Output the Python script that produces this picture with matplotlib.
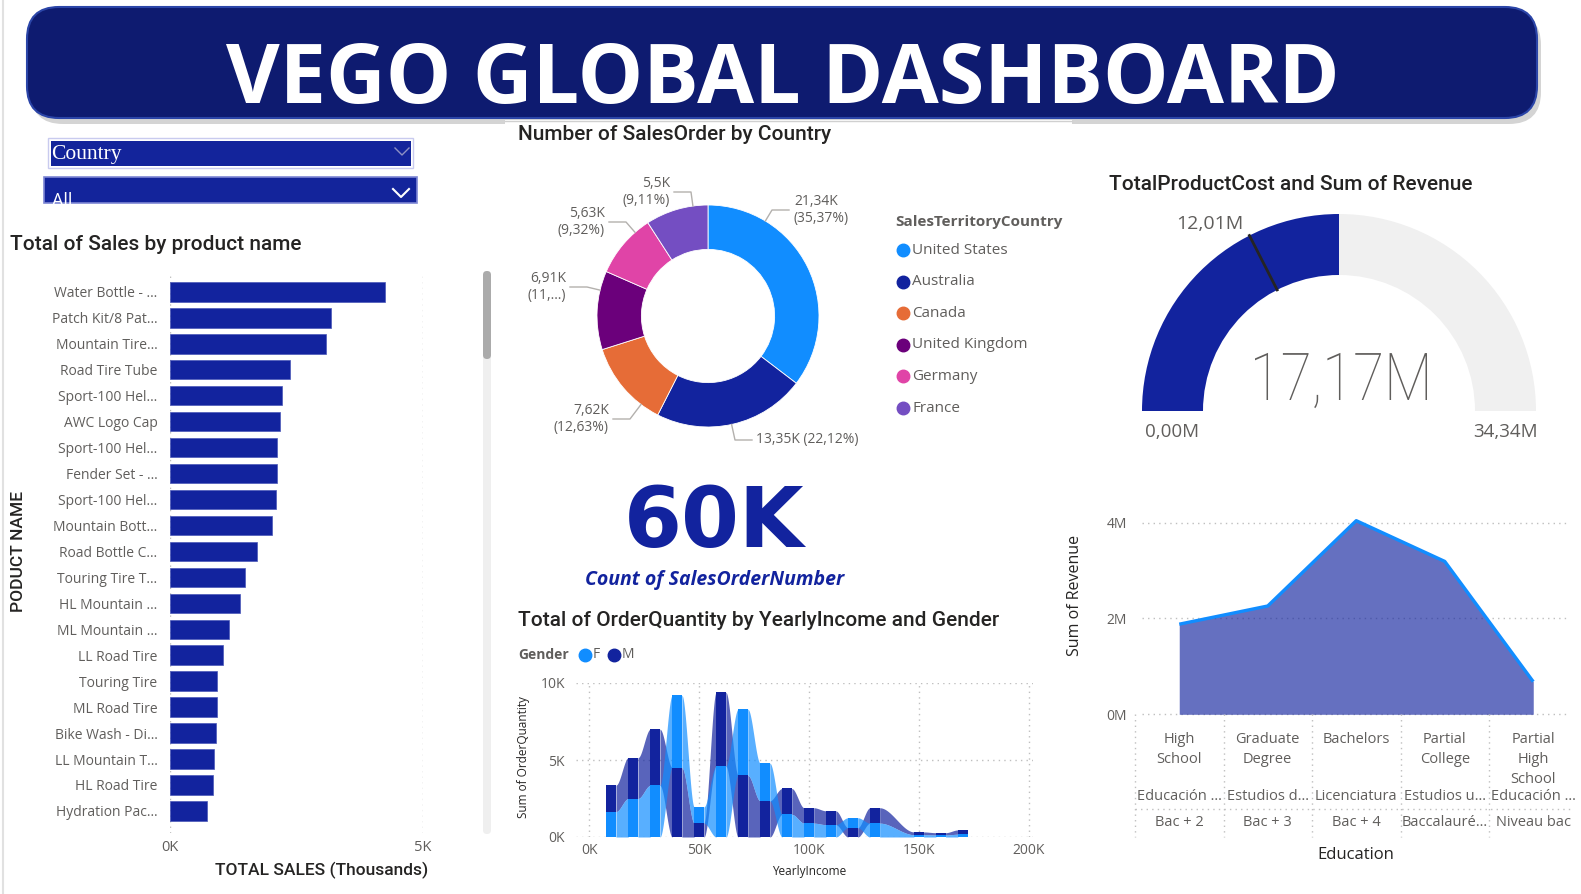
import numpy as np
import matplotlib.pyplot as plt
from matplotlib.patches import FancyBboxPatch, Rectangle, Wedge, PathPatch
from matplotlib.textpath import TextPath
from matplotlib.font_manager import FontProperties
import matplotlib.transforms as mtransforms

W, H = 1581, 894

# ---- data ----
products = ["Water Bottle - …", "Patch Kit/8 Pat…", "Mountain Tire…", "Road Tire Tube",
            "Sport-100 Hel…", "AWC Logo Cap", "Sport-100 Hel…", "Fender Set - …",
            "Sport-100 Hel…", "Mountain Bott…", "Road Bottle C…", "Touring Tire T…",
            "HL Mountain …", "ML Mountain …", "LL Road Tire", "Touring Tire",
            "ML Road Tire", "Bike Wash - Di…", "LL Mountain T…", "HL Road Tire",
            "Hydration Pac…"]
sales_k = [4.24, 3.18, 3.08, 2.37, 2.22, 2.18, 2.12, 2.11, 2.09, 2.02, 1.71,
           1.48, 1.39, 1.16, 1.04, 0.93, 0.92, 0.905, 0.86, 0.85, 0.73]

countries = ["United States", "Australia", "Canada", "United Kingdom", "Germany", "France"]
orders_k = [21.34, 13.35, 7.62, 6.91, 5.63, 5.5]
orders_lbl = ["21,34K\n(35,37%)", "13,35K (22,12%)", "7,62K\n(12,63%)",
              "6,91K\n(11,…)", "5,63K\n(9,32%)", "5,5K\n(9,11%)"]
country_colors = ["#118DFF", "#12239E", "#E66C37", "#6B007B", "#E044A7", "#744EC2"]

gauge_value = 17.17
gauge_max = 34.34
gauge_target = 12.01

incomes_k = [10, 20, 30, 40, 50, 60, 70, 80, 90, 100, 110, 120, 130, 150, 160, 170]
qty_f = [1.65, 2.5, 3.35, 4.7, 1.05, 4.6, 4.3, 2.45, 1.47, 0.9, 0.8, 0.65, 0.9, 0.15, 0.13, 0.18]
qty_m = [1.72, 2.65, 3.65, 4.5, 0.9, 4.8, 4.0, 2.35, 1.68, 1.0, 0.9, 0.6, 1.0, 0.18, 0.15, 0.28]

edu_en = ["High\nSchool", "Graduate\nDegree", "Bachelors", "Partial\nCollege", "Partial\nHigh\nSchool"]
edu_es = ["Educación …", "Estudios d…", "Licenciatura", "Estudios u…", "Educación …"]
edu_fr = ["Bac + 2", "Bac + 3", "Bac + 4", "Baccalauré…", "Niveau bac"]
revenue_m = [1.88, 2.26, 4.04, 3.19, 0.68]

BLUE = "#12239E"
LBLUE = "#118DFF"
GREY = "#605E5C"
DARK = "#252423"
TITLE_FONT = "Roboto"
LABEL_FONT = "Open Sans"


def fbox(x0, y0, x1, y1):
    return [x0 / W, 1 - y1 / H, (x1 - x0) / W, (y1 - y0) / H]


def title(x, y, s):
    bg.text(x, y, s, fontsize=15, family=TITLE_FONT, fontweight="medium",
            color=DARK, va="center", ha="left")


fig = plt.figure(figsize=(W / 100, H / 100), dpi=100)
fig.patch.set_facecolor("white")

bg = fig.add_axes([0, 0, 1, 1])
bg.set_xlim(0, W)
bg.set_ylim(H, 0)
bg.axis("off")

# page edge
bg.plot([3, 3], [0, H], color="#E1E1E1", lw=1.5)

# header
bg.add_patch(FancyBboxPatch((31, 13), 1510, 111, boxstyle="round,pad=0,rounding_size=32",
                            fc="#B8B8B8", ec="none", alpha=0.6))
bg.add_patch(FancyBboxPatch((27, 7), 1510, 111, boxstyle="round,pad=0,rounding_size=32",
                            fc="#0E1B70", ec="#2B45A8", lw=1.5))
bg.text(783, 82, "VEGO GLOBAL DASHBOARD", color="white", fontsize=59.5, fontweight="bold",
        family="Open Sans", ha="center", va="center")

# slicers
bg.add_patch(Rectangle((48, 138), 365, 30, fc="white", ec="#C9CBEF", lw=1))
bg.add_patch(Rectangle((51, 141), 360, 25, fc="#13249B", ec="none"))
bg.text(51, 154, "Country", color="white", fontsize=15.5, family="Liberation Serif",
        ha="left", va="center")
bg.plot([395, 402, 409], [148, 155, 148], color="#8E91C4", lw=1)

box2 = Rectangle((44, 177), 373, 26, fc="#13249B", ec="#7D86D4", lw=1.2)
bg.add_patch(box2)
t_all = bg.text(52, 206, "All", color="white", fontsize=13, family=LABEL_FONT,
                ha="left", va="baseline")
t_all.set_clip_path(box2)
bg.plot([393, 401, 409], [189, 197, 189], color="white", lw=1.5)

# ---- bar chart ----
title(10, 244, "Total of Sales by product name")
ax1 = fig.add_axes(fbox(170, 274, 423, 833))
y = np.arange(len(products))
ax1.barh(y, sales_k, height=0.75, color=BLUE, edgecolor="#4A57B8", lw=0.5)
ax1.set_xlim(0, 5)
ax1.set_ylim(20.85, -0.69)
ax1.set_yticks(y)
ax1.set_yticklabels(products, fontsize=10, family=LABEL_FONT, color=GREY)
ax1.set_xticks([0, 5])
ax1.set_xticklabels(["0K", "5K"], fontsize=10.5, family=LABEL_FONT, color=GREY)
ax1.tick_params(length=0, axis="y", pad=9)
ax1.tick_params(length=0, axis="x", pad=5)
ax1.grid(axis="x", linestyle=(0, (1, 3)), color="#BFBFBF", lw=1)
ax1.set_axisbelow(True)
for s in ax1.spines.values():
    s.set_visible(False)
bg.text(322, 870, "TOTAL SALES (Thousands)", fontsize=12.5, family=TITLE_FONT,
        fontweight="medium", color=DARK, ha="center", va="center")
bg.text(19, 552, "PODUCT NAME", fontsize=12.5, family=TITLE_FONT, fontweight="medium",
        color=DARK, ha="center", va="center", rotation=90)

# scrollbar
bg.add_patch(FancyBboxPatch((483, 271), 8, 563, boxstyle="round,pad=0,rounding_size=4",
                            fc="#EFEFEF", ec="none"))
bg.add_patch(FancyBboxPatch((483, 271), 8, 88, boxstyle="round,pad=0,rounding_size=4",
                            fc="#ABABAB", ec="none"))

# ---- donut ----
bg.add_patch(Rectangle((505, 120), 567, 40, fc="white", ec="none"))
bg.plot([505, 1072], [120.5, 120.5], color="#D0D0D0", lw=1)
title(518, 135, "Number of SalesOrder by Country")
cx, cy, R = 708, 316, 111
axd = fig.add_axes(fbox(cx - R, cy - R, cx + R, cy + R))
wedges, _ = axd.pie(orders_k, colors=country_colors, startangle=90, counterclock=False,
                    radius=1, wedgeprops=dict(width=0.4, edgecolor="white", linewidth=0.6))
axd.set_xlim(-1, 1)
axd.set_ylim(-1, 1)
axd.set_aspect("equal")

# label placement (pixel layout): text anchor x, y, ha, leader end x
lbl_layout = [(794, 210, "left", 789), (756, 440, "left", 752), (609, 419, "right", 613),
              (566, 287, "right", 570), (605, 222, "right", 609), (670, 192, "right", 674)]
for w, txt, (tx, ty, ha, lx) in zip(wedges, orders_lbl, lbl_layout):
    ex = lx + (17 if ha == "right" else -17)
    dx, dy = (ex - cx) / R, (cy - ty) / R
    ang = np.degrees(np.arctan2(dy, dx))
    t1, t2 = sorted([w.theta1, w.theta2])
    a = ang
    while a < t1:
        a += 360
    while a > t2:
        a -= 360
    a = min(max(a, t1 + 2), t2 - 2)
    ax_, ay_ = np.cos(np.radians(a)), np.sin(np.radians(a))
    axd.plot([ax_, dx, (lx - cx) / R], [ay_, dy, (cy - ty) / R], color="#B3B0AD", lw=1,
             clip_on=False)
    bg.text(tx, ty, txt, fontsize=10, family=LABEL_FONT, color=GREY, ha=ha, va="center",
            multialignment=ha, linespacing=1.25)

bg.text(895, 222, "SalesTerritoryCountry", fontsize=11, family=LABEL_FONT, color=GREY,
        fontweight="bold", ha="left", va="center")
for i, (c, col) in enumerate(zip(countries, country_colors)):
    yy = 250 + i * 31.6
    bg.plot(903, yy, "o", ms=9, color=col)
    bg.text(912, yy, c, fontsize=11, family=LABEL_FONT, color=GREY, ha="left", va="center")

# ---- KPI ----
bg.text(714, 524, "60K", fontsize=60, fontweight="bold", family="DejaVu Sans", color=BLUE,
        ha="center", va="center")
bg.text(715, 580, "Count of SalesOrderNumber", fontsize=14, fontweight="bold",
        fontstyle="italic", family=LABEL_FONT, color=BLUE, ha="center", va="center")

# ---- ribbon chart ----
title(518, 620, "Total of OrderQuantity by YearlyIncome and Gender")
bg.text(518, 655, "Gender", fontsize=10, fontweight="bold", family=LABEL_FONT, color=GREY,
        va="center", ha="left")
bg.plot(585, 655, "o", ms=9, color=LBLUE)
bg.text(593, 655, "F", fontsize=10, family=LABEL_FONT, color=GREY, va="center", ha="left")
bg.plot(614, 655, "o", ms=9, color=BLUE)
bg.text(622, 655, "M", fontsize=10, family=LABEL_FONT, color=GREY, va="center", ha="left")

axr = fig.add_axes(fbox(576, 683, 1033, 837))
inc = np.array(incomes_k, float)
f = np.array(qty_f)
m = np.array(qty_m)
f_bot = np.where(f >= m, m, 0.0)
f_top = f_bot + f
m_bot = np.where(m > f, f, 0.0)
m_top = m_bot + m
half = 2.2
t = np.linspace(0, 1, 50)
s = t * t * (3 - 2 * t)
for i in range(len(inc) - 1):
    xa, xb = inc[i] + half, inc[i + 1] - half
    xs = xa + (xb - xa) * t
    for bot, top, col in [(m_bot, m_top, BLUE), (f_bot, f_top, LBLUE)]:
        axr.fill_between(xs, bot[i] + (bot[i + 1] - bot[i]) * s,
                         top[i] + (top[i + 1] - top[i]) * s, color=col, alpha=0.7, lw=0,
                         zorder=2)
for i in range(len(inc)):
    xx = [inc[i] - half, inc[i] + half]
    axr.fill_between(xx, f_bot[i], f_top[i], color=LBLUE, lw=0, zorder=3)
    axr.fill_between(xx, m_bot[i], m_top[i], color=BLUE, lw=0, zorder=3)
axr.set_xlim(-6, 202)
axr.set_ylim(0, 10)
axr.set_xticks([0, 50, 100, 150, 200])
axr.set_xticklabels(["0K", "50K", "100K", "150K", "200K"], fontsize=10, family=LABEL_FONT,
                    color=GREY)
axr.set_yticks([0, 5, 10])
axr.set_yticklabels(["0K", "5K", "10K"], fontsize=10, family=LABEL_FONT, color=GREY)
axr.tick_params(length=0, axis="x", pad=4)
axr.tick_params(length=0, axis="y", pad=8)
axr.grid(True, linestyle=(0, (1, 3)), color="#BFBFBF", lw=1)
axr.set_axisbelow(True)
for sp in axr.spines.values():
    sp.set_visible(False)
bg.text(809, 872, "YearlyIncome", fontsize=8.5, family=LABEL_FONT, color=DARK,
        ha="center", va="center")
bg.text(524, 757, "Sum of OrderQuantity", fontsize=8.5, family=LABEL_FONT, color=DARK,
        ha="center", va="center", rotation=90)

# ---- gauge ----
title(1109, 185, "TotalProductCost and Sum of Revenue")
gx, gy, gr, gw = 1339, 411, 197, 61
axg = fig.add_axes(fbox(gx - 205, gy - 205, gx + 205, gy + 40))
axg.set_xlim(-205, 205)
axg.set_ylim(-40, 205)
axg.axis("off")
ang_val = 180 - 180 * gauge_value / gauge_max
axg.add_patch(Wedge((0, 0), gr, 0, ang_val, width=gw, fc="#F0F0F0", ec="none"))
axg.add_patch(Wedge((0, 0), gr, ang_val, 180, width=gw, fc=BLUE, ec="none"))
ang_t = np.radians(180 - 180 * gauge_target / gauge_max)
axg.plot([(gr - gw) * np.cos(ang_t), gr * np.cos(ang_t)],
         [(gr - gw) * np.sin(ang_t), gr * np.sin(ang_t)], color=DARK, lw=2)
axg.text(gr * np.cos(ang_t) - 6, gr * np.sin(ang_t) + 12,
         f"{gauge_target:.2f}M".replace(".", ","), fontsize=14, family=LABEL_FONT,
         color=GREY, ha="right", va="center")
axg.text(-(gr - gw / 2), -21, "0,00M", fontsize=13.5, family=LABEL_FONT, color=GREY,
         ha="center", va="center")
axg.text(gr - gw / 2, -21, f"{gauge_max:.2f}M".replace(".", ","), fontsize=13.5,
         family=LABEL_FONT, color=GREY, ha="center", va="center")
# big callout value, condensed light face
tp = TextPath((0, 0), f"{gauge_value:.2f}M".replace(".", ","), size=66,
              prop=FontProperties(family="Roboto", weight="light"))
ext = tp.get_extents()
tr = mtransforms.Affine2D().translate(-ext.x0 - ext.width / 2, 0).scale(172 / ext.width, 1) \
    .translate(2, 11)
axg.add_patch(PathPatch(tr.transform_path(tp), fc=GREY, ec="none"))

# ---- area chart ----
axa = fig.add_axes(fbox(1135, 513, 1577.5, 714.3))
xs_e = np.arange(len(revenue_m))
axa.fill_between(xs_e, revenue_m, color=BLUE, alpha=0.65, lw=0)
axa.plot(xs_e, revenue_m, color=LBLUE, lw=2.4, solid_capstyle="butt")
axa.set_xlim(-0.5, 4.5)
axa.set_ylim(0, 4.2)
axa.set_yticks([0, 2, 4])
axa.set_yticklabels(["0M", "2M", "4M"], fontsize=10, family=LABEL_FONT, color=GREY)
axa.tick_params(length=0, axis="y", pad=6)
axa.set_xticks([])
for sp in axa.spines.values():
    sp.set_visible(False)
for yv in [0, 2, 4]:
    axa.plot([-0.42, 4.4], [yv, yv], linestyle=(0, (1, 3)), color="#BFBFBF", lw=1,
             zorder=0, clip_on=False)
ah = 714.3 - 513
bt = mtransforms.blended_transform_factory(axa.transData, axa.transAxes)
for i in range(len(edu_en)):
    axa.text(i, -(732 - 714.3) / ah, edu_en[i], transform=bt, fontsize=10.5,
             family=LABEL_FONT, color=GREY, ha="center", va="top", linespacing=1.45)
    axa.text(i, -(796 - 714.3) / ah, edu_es[i], transform=bt, fontsize=10.5,
             family=LABEL_FONT, color=GREY, ha="center", va="center")
    axa.text(i, -(823 - 714.3) / ah, edu_fr[i], transform=bt, fontsize=10.5,
             family=LABEL_FONT, color=GREY, ha="center", va="center")
for i in range(len(edu_en)):
    axa.plot([i - 0.5, i - 0.5], [0, -(837 - 714.3) / ah], transform=bt,
             linestyle=(0, (1, 3)), color="#BFBFBF", lw=1, clip_on=False)
axa.plot([-0.5, 4.45], [-(809 - 714.3) / ah] * 2, transform=bt, linestyle=(0, (1, 3)),
         color="#BFBFBF", lw=1, clip_on=False)
bg.text(1356, 855, "Education", fontsize=12, family=LABEL_FONT, color=DARK,
        ha="center", va="center")
bg.text(1075, 595, "Sum of Revenue", fontsize=11.5, family=LABEL_FONT, color=DARK,
        ha="center", va="center", rotation=90)

fig.savefig("out.png", dpi=100)
